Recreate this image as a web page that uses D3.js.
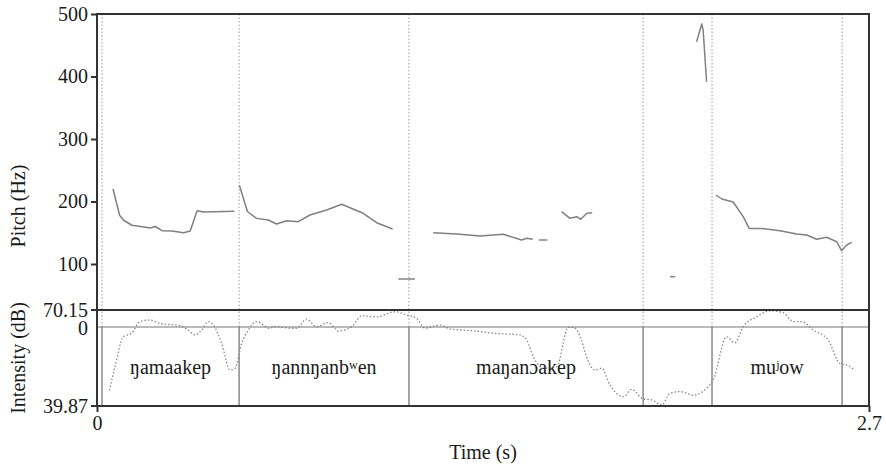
<!DOCTYPE html>
<html><head><meta charset="utf-8">
<script src="https://cdn.jsdelivr.net/npm/d3@7"></script>
<style>body{margin:0;background:#fff}</style>
</head><body><svg id="c" width="886" height="469" style="font-family:'Liberation Serif','DejaVu Serif',serif"></svg>
<script>
// ---- data ----
const pitchTicks = [100, 200, 300, 400, 500];
const intensityLabels = ["70.15", "39.87"];
const intensityRange = [70.15, 39.87];
const timeLabels = ["0", "2.7"];
const timeRange = [0, 2.7];
const boundaries = [0.0175, 0.497, 1.091, 1.910, 2.151, 2.606];
const words = ["ŋamaakep", "ŋannŋanbʷen", "maŋanɔakep", "", "muʲow", ""];
// pitch segments [time, Hz]
const pitch1 = [[0.056,220],[0.079,178],[0.093,170],[0.122,162],[0.152,160],[0.187,157.6],[0.204,160],[0.227,153.3],[0.262,152.8],[0.303,150.1],[0.326,152.8],[0.350,185.3],[0.373,183.2],[0.480,184.3]];
const pitch2 = [[0.498,226],[0.526,184],[0.558,173],[0.599,170.4],[0.628,164],[0.663,169.3],[0.704,167.7],[0.745,178.4],[0.803,186.4],[0.856,195.5],[0.931,181.1],[0.978,166.1],[1.034,156]];
const pitch3 = [[1.054,76],[1.112,76]];
const pitch4 = [[1.176,150.1],[1.258,148],[1.340,144.8],[1.421,147.5],[1.485,138.4],[1.503,141.1],[1.524,139.5]];
const pitch5 = [[1.546,138.4],[1.575,138.4]];
const pitch6 = [[1.625,183.7],[1.654,173.1],[1.678,175.7],[1.692,171.5],[1.713,181.1],[1.732,182.1]];
const pitch7 = [[2.004,79.7],[2.022,79.7]];
const pitch8 = [[2.097,455.7],[2.115,484],[2.120,474],[2.132,391.7]];
const pitch9 = [[2.165,210.4],[2.185,204],[2.225,199.2],[2.260,175.7],[2.281,157],[2.319,157],[2.389,153.3],[2.447,148],[2.482,146.4],[2.517,139.5],[2.552,142.7],[2.587,135.7],[2.604,121.3],[2.622,130.4],[2.640,134.7]];
const pitchSegments = [pitch1, pitch2, pitch3, pitch4, pitch5, pitch6, pitch7, pitch8, pitch9];
// intensity [time, dB]
const intensity = [[0.043,44.7],[0.063,52.3],[0.092,61.7],[0.121,62.8],[0.150,66.5],[0.185,67.0],[0.220,65.9],[0.290,65.2],[0.319,63.8],[0.343,62.3],[0.366,63.8],[0.389,66.5],[0.407,65.4],[0.436,59.6],[0.465,51.2],[0.483,51.8],[0.506,59.6],[0.529,63.8],[0.559,66.5],[0.582,65.4],[0.599,64.4],[0.628,64.9],[0.675,64.4],[0.698,64.4],[0.733,67.3],[0.768,64.9],[0.809,66.2],[0.844,63.5],[0.891,64.9],[0.926,68.3],[0.978,68.0],[1.042,69.6],[1.083,68.6],[1.118,67.5],[1.147,64.4],[1.200,65.4],[1.235,64.2],[1.316,63.6],[1.386,62.8],[1.479,62.3],[1.503,60.7],[1.526,55.4],[1.561,51.8],[1.608,52.3],[1.648,64.7],[1.666,64.7],[1.695,60.5],[1.712,55.4],[1.742,51.2],[1.765,51.8],[1.794,46.5],[1.841,42.8],[1.870,45.1],[1.910,42.1],[1.940,41.8],[1.975,40.2],[2.004,43.9],[2.039,44.4],[2.086,43.3],[2.132,45.5],[2.155,48.1],[2.202,61.7],[2.231,59.8],[2.260,64.9],[2.307,68.0],[2.354,69.9],[2.400,69.3],[2.435,66.5],[2.464,66.5],[2.505,63.8],[2.557,60.7],[2.598,53.3],[2.622,52.8],[2.651,51.2]];

// ---- layout ----
const L = 97, R = 869, T = 14, midY = 310, tierY = 327, B = 406;
const FONT = "'Liberation Serif','DejaVu Serif',serif";
const FS = "20px";
const svg = d3.select("#c");
const x = d3.scaleLinear().domain(timeRange).range([L, R]);
const yP = d3.scaleLinear().domain([100, 500]).range([264, T]);
const yI = d3.scaleLinear().domain(intensityRange).range([midY, B]);
const styleText = s => s.style("font-family", FONT).style("font-size", FS).style("fill", "#1a1a1a");

// dotted boundary lines
svg.append("g").selectAll("line").data(boundaries).join("line")
  .attr("x1", d => x(d)).attr("x2", d => x(d)).attr("y1", T).attr("y2", tierY)
  .attr("stroke", "#999").attr("stroke-width", 1).attr("stroke-dasharray", "1.5,2");
// solid boundary lines in tier
svg.append("g").selectAll("line").data(boundaries).join("line")
  .attr("x1", d => x(d)).attr("x2", d => x(d)).attr("y1", tierY).attr("y2", B)
  .attr("stroke", "#888").attr("stroke-width", 1.5);

// pitch curves
const line = d3.line().x(d => x(d[0])).y(d => yP(d[1]));
svg.append("g").selectAll("path").data(pitchSegments).join("path")
  .attr("d", line).attr("fill", "none").attr("stroke", "#808080").attr("stroke-width", 1.5)
  .attr("stroke-linejoin", "round");

// intensity
const lineI = d3.line().x(d => x(d[0])).y(d => yI(d[1])).curve(d3.curveMonotoneX);
svg.append("path").datum(intensity).attr("d", lineI).attr("fill", "none")
  .attr("stroke", "#888").attr("stroke-width", 1.3).attr("stroke-dasharray", "1.5,2");

// frame lines
svg.append("line").attr("x1", L).attr("x2", R).attr("y1", tierY).attr("y2", tierY).attr("stroke", "#777").attr("stroke-width", 1.2);
svg.append("line").attr("x1", L).attr("x2", R).attr("y1", midY).attr("y2", midY).attr("stroke", "#333").attr("stroke-width", 2);
svg.append("rect").attr("x", L).attr("y", T).attr("width", R - L).attr("height", B - T)
  .attr("fill", "none").attr("stroke", "#333").attr("stroke-width", 2);

// word labels
const intervals = boundaries.map((b, i) => [b, i < boundaries.length - 1 ? boundaries[i + 1] : timeRange[1]]);
svg.append("g").selectAll("text").data(words.map((w, i) => ({w, iv: intervals[i]}))).join("text")
  .attr("x", d => x((d.iv[0] + d.iv[1]) / 2)).attr("y", 374).attr("text-anchor", "middle")
  .call(styleText).text(d => d.w);

// pitch axis
const axP = svg.append("g").attr("transform", `translate(${L},0)`)
  .call(d3.axisLeft(yP).tickValues(pitchTicks).tickSize(6).tickPadding(3));
axP.attr("font-family", null).attr("font-size", null);
axP.select(".domain").remove();
axP.selectAll("line").attr("stroke", "#333").attr("stroke-width", 2);
axP.selectAll("text").call(styleText);

// intensity labels
const iTicks = [{v: intensityRange[0], l: intensityLabels[0]}, {v: intensityRange[1], l: intensityLabels[1]}];
const gI = svg.append("g");
gI.selectAll("line").data(iTicks).join("line").attr("x1", L - 6).attr("x2", L)
  .attr("y1", d => yI(d.v)).attr("y2", d => yI(d.v)).attr("stroke", "#333").attr("stroke-width", 2);
gI.selectAll("text").data(iTicks).join("text").attr("x", L - 9).attr("y", d => yI(d.v))
  .attr("dy", "0.34em").attr("text-anchor", "end").call(styleText).text(d => d.l);
svg.append("text").attr("x", L - 9).attr("y", tierY + 1).attr("dy", "0.34em").attr("text-anchor", "end")
  .call(styleText).text("0");

// time axis
const axT = svg.append("g").attr("transform", `translate(0,${B})`)
  .call(d3.axisBottom(x).tickValues(timeRange).tickFormat((d, i) => timeLabels[i]).tickSize(6).tickPadding(4));
axT.attr("font-family", null).attr("font-size", null);
axT.select(".domain").remove();
axT.selectAll("line").attr("stroke", "#333").attr("stroke-width", 2);
axT.selectAll("text").call(styleText);

// axis titles
svg.append("text").attr("x", 483).attr("y", 459).attr("text-anchor", "middle").call(styleText).text("Time (s)");
svg.append("text").attr("transform", "translate(25,206) rotate(-90)").attr("text-anchor", "middle").call(styleText).text("Pitch (Hz)");
svg.append("text").attr("transform", "translate(25,358) rotate(-90)").attr("text-anchor", "middle").call(styleText).text("Intensity (dB)");
</script></body></html>
